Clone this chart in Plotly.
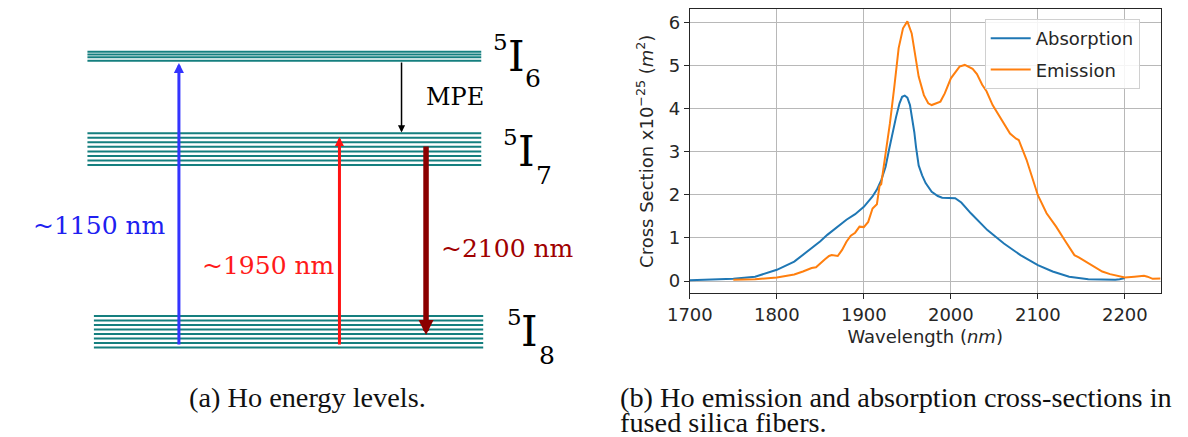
import plotly.graph_objects as go

# ---------------- data (right panel) ----------------
abs_wl = [1700, 1725, 1750, 1775, 1800, 1820, 1835, 1850, 1858, 1873, 1880, 1890, 1900, 1910, 1915,
          1920, 1925, 1929, 1933, 1937, 1941, 1944, 1947, 1950, 1953, 1955, 1958, 1960, 1963, 1967,
          1971, 1978, 1985, 1990, 2000, 2005, 2012, 2023, 2042, 2061, 2080, 2100, 2117, 2136, 2158,
          2175, 2189, 2194, 2200]
abs_val = [0.02, 0.03, 0.05, 0.10, 0.26, 0.45, 0.68, 0.92, 1.07, 1.30, 1.42, 1.55, 1.72, 1.96, 2.12,
           2.34, 2.65, 3.05, 3.45, 3.80, 4.12, 4.27, 4.30, 4.25, 4.08, 3.85, 3.45, 3.10, 2.68, 2.45,
           2.27, 2.07, 1.97, 1.93, 1.93, 1.92, 1.82, 1.57, 1.18, 0.87, 0.60, 0.37, 0.22, 0.10, 0.04,
           0.03, 0.03, 0.04, 0.07]

em_wl = [1750, 1775, 1800, 1820, 1830, 1840, 1845, 1850, 1855, 1860, 1863, 1870, 1875, 1880, 1885,
         1890, 1895, 1900, 1905, 1910, 1915, 1918, 1920, 1925, 1930, 1935, 1940, 1945, 1950, 1955,
         1959, 1963, 1969, 1974, 1978, 1983, 1988, 1993, 2000, 2010, 2016, 2025, 2030, 2036, 2041,
         2048, 2057, 2068, 2075, 2078, 2087, 2100, 2110, 2121, 2132, 2142, 2147, 2151, 2162, 2174,
         2183, 2193, 2200, 2211, 2222, 2226, 2232, 2241]
em_val = [0.03, 0.04, 0.08, 0.15, 0.22, 0.30, 0.32, 0.42, 0.50, 0.58, 0.60, 0.58, 0.72, 0.91, 1.05,
          1.12, 1.26, 1.25, 1.37, 1.68, 1.78, 2.20, 2.25, 2.96, 3.66, 4.50, 5.40, 5.86, 6.02, 5.74,
          5.20, 4.74, 4.31, 4.12, 4.08, 4.12, 4.16, 4.35, 4.70, 4.97, 5.01, 4.92, 4.80, 4.55, 4.40,
          4.08, 3.77, 3.42, 3.30, 3.27, 2.81, 1.99, 1.57, 1.26, 0.91, 0.60, 0.55, 0.50, 0.37, 0.22,
          0.16, 0.12, 0.08, 0.10, 0.12, 0.10, 0.05, 0.06]

x_ticks = [1700, 1800, 1900, 2000, 2100, 2200]
y_ticks = [0, 1, 2, 3, 4, 5, 6]
series_names = ["Absorption", "Emission"]
series_colors = ["#1f77b4", "#ff7f0e"]

# ---------------- data (left panel: energy-level diagram) ----------------
level_names = ["6", "7", "8"]                       # 5I6, 5I7, 5I8
level_lines = [                                       # sub-level line heights (diagram units)
    [51.7, 54.5, 57.3, 60.7],
    [133.3, 137.8, 142.3, 146.8, 151.4, 155.9, 160.4, 165.0],
    [316.0, 320.5, 325.0, 329.5, 334.0, 338.6, 343.1, 347.6],
]
level_x = [(65.7, 467.3), (65.7, 467.3), (72.3, 469.3)]
transition_labels = ["~1150 nm", "~1950 nm", "~2100 nm", "MPE"]

caption_a = "(a) Ho energy levels."
caption_b_line1 = "(b) Ho emission and absorption cross-sections in"
caption_b_line2 = "fused silica fibers."

teal = "#157f7f"
W, H = 1188, 437

fig = go.Figure()

# level lines on the diagram axes
for (x0, x1), ys in zip(level_x, level_lines):
    for yy in ys:
        fig.add_trace(go.Scatter(x=[x0, x1], y=[yy, yy], mode="lines",
                                 line=dict(color=teal, width=2), showlegend=False,
                                 hoverinfo="skip", xaxis="x2", yaxis="y2"))

# spectra
fig.add_trace(go.Scatter(x=abs_wl, y=abs_val, mode="lines", name=series_names[0],
                         line=dict(color=series_colors[0], width=2), legendgroup="a"))
fig.add_trace(go.Scatter(x=em_wl, y=em_val, mode="lines", name=series_names[1],
                         line=dict(color=series_colors[1], width=2), legendgroup="b"))

ann = []
serif = "DejaVu Serif"

def arrow(x, y0, y1, color, width, size):
    ann.append(dict(x=x, y=y1, ax=x, ay=y0, xref="x2", yref="y2", axref="x2", ayref="y2",
                    showarrow=True, arrowhead=2, arrowsize=size, arrowwidth=width,
                    arrowcolor=color, text="", standoff=0, startstandoff=0))

arrow(159, 346, 63, "#3434ff", 3, 0.67)
arrow(322.7, 346, 137, "#ff1212", 3, 0.6)
arrow(411, 145, 335, "#8b0000", 5.5, 0.55)
arrow(386, 61, 132.5, "#000000", 1.5, 0.95)

def label(x, y, text, color, size, xanchor="center"):
    ann.append(dict(x=x, y=y, xref="x2", yref="y2", text=text, showarrow=False,
                    font=dict(family=serif, size=size, color=color),
                    xanchor=xanchor, yanchor="middle"))

label(8, 225, transition_labels[0], "#2020f0", 25, "left")
label(180, 265, transition_labels[1], "#ff1a1a", 25, "left")
label(424, 248, transition_labels[2], "#a00000", 25, "left")
label(409, 97, transition_labels[3], "#000000", 24, "left")

term_pos = [((487, 42), (503, 56), (520, 78)),
            ((497, 137), (513, 151), (531, 175)),
            ((501, 317), (517, 331), (534, 355))]
for name, (p5, pI, pj) in zip(level_names, term_pos):
    label(p5[0], p5[1], "5", "#000000", 23)
    label(pI[0], pI[1], "I", "#000000", 42)
    label(pj[0], pj[1], name, "#000000", 25)

# captions
cap_font = dict(family="Liberation Serif", size=28.3, color="#111111")
ann.append(dict(x=167 / W, y=1 - 397 / H, xref="paper", yref="paper", showarrow=False,
                text=caption_a, font=cap_font, xanchor="left", yanchor="middle"))
ann.append(dict(x=607 / W, y=1 - 397 / H, xref="paper", yref="paper", showarrow=False,
                text=caption_b_line1, font=cap_font, xanchor="left", yanchor="middle"))
ann.append(dict(x=607 / W, y=1 - 422 / H, xref="paper", yref="paper", showarrow=False,
                text=caption_b_line2, font=cap_font, xanchor="left", yanchor="middle"))

sans = "DejaVu Sans"
axis_common = dict(showline=True, mirror=True, linecolor="#262626", linewidth=1.3,
                   showgrid=True, gridcolor="#b8b8b8", gridwidth=1, zeroline=False,
                   ticks="outside", ticklen=5, tickwidth=1.2, tickcolor="#262626",
                   tickfont=dict(family=sans, size=18, color="#262626"))

fig.update_layout(
    width=W, height=H, margin=dict(l=0, r=0, t=0, b=0),
    paper_bgcolor="white", plot_bgcolor="white",
    xaxis=dict(domain=[680 / W, 1160 / W], range=[1700, 2241], tickvals=x_ticks,
               title=dict(text="Wavelength (<i>nm</i>)", standoff=6,
                          font=dict(family=sans, size=18, color="#262626")),
               anchor="y", **axis_common),
    yaxis=dict(domain=[1 - 293.3 / H, 1 - 9.3 / H], range=[-0.285, 6.30], tickvals=y_ticks,
               title=dict(text="Cross Section x10<sup>−25</sup> (<i>m</i><sup>2</sup>)", standoff=10,
                          font=dict(family=sans, size=18, color="#262626")),
               anchor="x", **axis_common),
    xaxis2=dict(domain=[0, 594 / W], range=[0, 594], visible=False, anchor="y2"),
    yaxis2=dict(domain=[0, 1], range=[437, 0], visible=False, anchor="x2"),
    legend=dict(x=980.7 / W, y=1 - 19 / H, xanchor="left", yanchor="top",
                bgcolor="rgba(255,255,255,0.85)", bordercolor="#d0d0d0", borderwidth=1,
                font=dict(family=sans, size=18, color="#262626"), tracegroupgap=5,
                itemwidth=40),
    annotations=ann,
    showlegend=True,
)

fig.write_html("out.html", config={"displayModeBar": False},
               post_script="document.body.style.margin='0';document.body.style.overflow='hidden';")
